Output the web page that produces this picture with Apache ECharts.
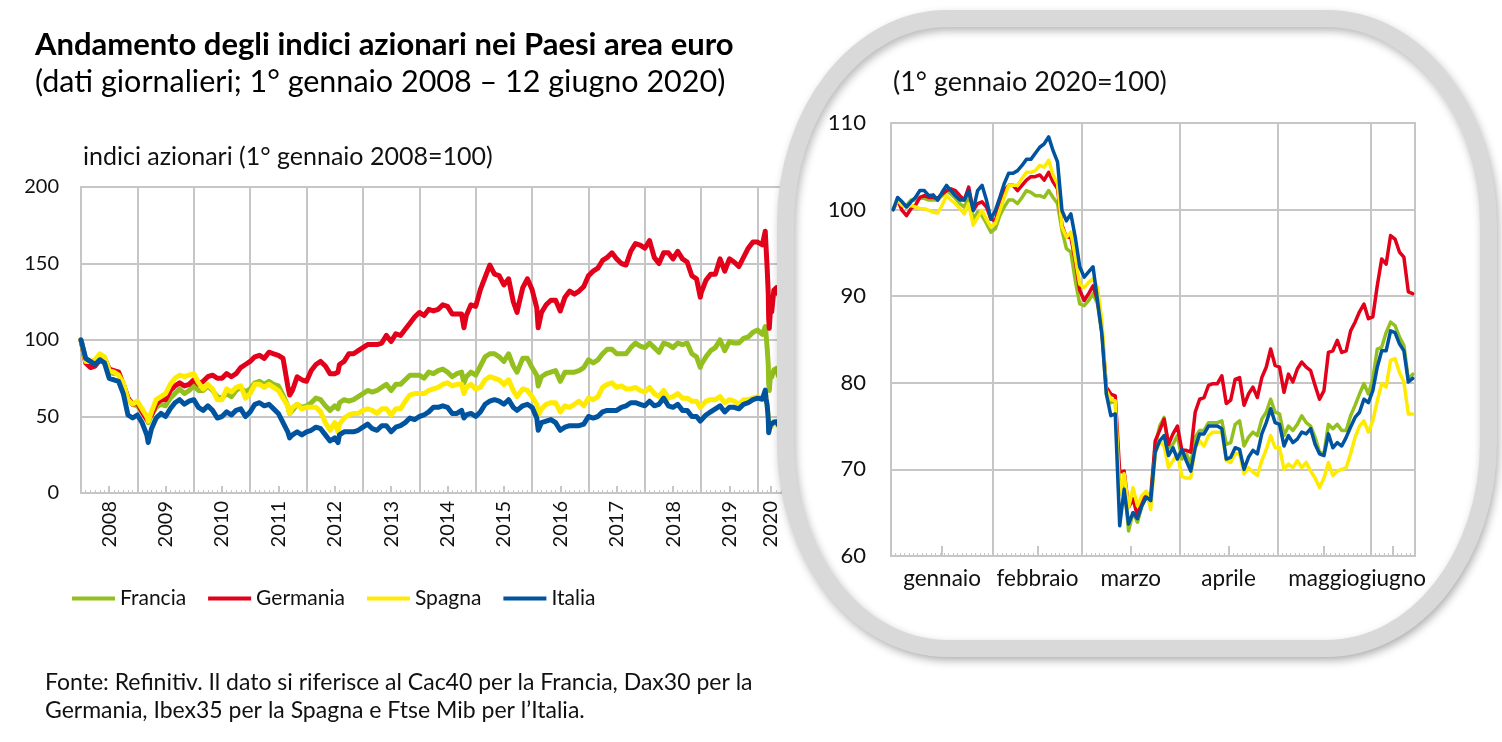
<!DOCTYPE html>
<html><head><meta charset="utf-8">
<script src="https://cdn.jsdelivr.net/npm/echarts@6/dist/echarts.min.js"></script>
<style>html,body{margin:0;padding:0;background:#fff}#c{width:1502px;height:742px}</style>
</head><body><div id="c"></div><script>
// ---------- DATA ----------
const seriesNames = ['Francia', 'Germania', 'Spagna', 'Italia'];
const seriesColors = ['#93C01F', '#E2001A', '#FFEB00', '#00539F'];

// Left chart: time in months since 1 Jan 2008 (index 1 Jan 2008 = 100)
const longT = [
  0,1,2,3,4,5,6,7,8,9,10,11,
  12,13,14,14.3,15,16,17,18,19,20,21,22,23,
  24,25,26,27,28,29,30,31,32,33,34,35,
  36,37,38,39,40,41,42,43,44,44.4,45,46,47,
  48,49,50,51,52,53,54,54.7,55,56,57,58,59,
  60,61,62,63,64,65,66,67,68,69,70,71,
  72,73,74,75,76,77,78,79,80,81,81.5,82,83,
  84,85,86,87,88,89,90,91,92,92.8,93,94,95,
  96,97,97.3,98,99,100,101,102,103,104,105,106,107,
  108,109,110,111,112,113,114,115,116,117,118,119,
  120,121,122,123,124,125,126,127,128,129,130,131,131.8,
  132,133,134,135,136,137,138,139,140,141,142,143,
  144,145,145.62,145.79,146.03,146.26,146.35,146.48,146.74,147,147.45,148,148.45,149,149.23,149.37
];
const franciaLong = [
  100,87,85,85,89,88,79,78,79,71,62,58,
  57,53,49,46,51,56,58,57,62,65,68,65,67,
  70,67,67,70,67,63,62,65,63,67,69,66,
  68,72,73,71,73,71,70,64,57,52,54,58,56,
  57,59,62,61,57,54,57,55,59,61,60,61,63,
  65,67,66,67,69,71,67,71,71,74,77,77,
  77,75,79,78,80,81,79,76,78,79,72,76,79,
  77,83,89,91,91,89,86,91,83,79,80,88,88,
  82,77,70,76,78,79,80,73,79,79,79,80,82,
  87,85,87,91,94,94,91,91,91,95,98,96,
  95,98,95,92,98,97,95,98,97,98,91,89,82,
  84,89,93,95,100,93,99,98,98,101,102,105,
  106.5,103.7,108.8,103.9,94.7,83.8,72.3,67.0,77.4,75.8,80.5,81.4,76.5,85.6,92.2,86.3
];
const germaniaLong = [
  100,85,82,83,87,88,81,80,79,71,62,58,
  59,53,48,47,51,58,61,61,67,70,72,70,71,
  74,71,73,76,77,75,75,78,76,78,82,84,
  86,89,90,88,92,91,90,88,70,64,67,76,74,
  73,80,84,86,83,78,78,79,84,86,91,91,93,
  95,97,97,97,98,103,99,104,103,107,111,115,
  118,116,120,119,120,123,122,117,117,117,108,116,123,
  122,133,141,149,143,142,136,140,125,118,121,134,140,
  133,121,108,118,123,126,126,119,128,132,130,132,135,
  142,145,147,152,154,157,153,150,149,158,163,162,
  160,165,154,150,157,157,153,158,153,151,142,140,128,
  131,139,143,143,153,145,153,151,148,154,160,164,
  164,162.2,171.1,161.0,146.8,130.4,114.3,107.6,120.2,118.4,132.5,134.2,129.7,143.7,158.4,148.1
];
const spagnaLong = [
  100,86,86,87,91,89,80,79,77,72,61,58,
  60,55,50,47,53,61,63,65,71,75,77,76,77,
  78,72,68,71,68,61,61,68,66,69,70,62,
  65,71,71,69,71,69,67,62,57,52,56,58,55,
  56,56,56,53,46,41,46,40,45,49,51,52,52,
  54,55,54,52,55,55,51,55,55,60,64,65,
  65,65,67,68,69,71,72,70,71,71,65,69,71,
  68,69,74,76,75,74,71,74,67,63,63,68,67,
  63,58,51,55,58,59,59,53,57,56,58,60,57,
  62,61,63,69,71,72,69,70,68,68,69,67,
  66,69,65,63,67,62,63,65,62,62,60,60,56,
  56,60,61,61,63,59,61,60,58,61,61,62,
  63,61.7,66.6,61.7,57.3,49.8,42.3,41.3,45.2,43.6,46.8,45.7,43.5,47.6,52.2,48.1
];
const italiaLong = [
  100,88,86,84,87,85,75,74,73,65,51,49,
  51,46,38,33,42,49,52,50,55,59,61,58,60,
  61,56,54,57,54,49,50,53,51,54,55,50,
  53,58,59,57,58,55,52,46,40,36,38,40,38,
  40,41,43,42,38,34,36,33,38,40,40,40,41,
  43,45,42,41,44,44,40,43,44,46,49,48,
  50,51,53,56,56,57,56,52,52,54,49,51,52,
  50,53,58,60,61,60,58,61,56,54,55,57,58,
  56,49,41,46,47,48,46,41,43,44,44,44,45,
  50,49,50,53,54,54,54,56,57,59,59,58,
  57,60,57,58,62,57,56,58,54,54,50,50,47,
  48,51,53,55,57,53,56,56,55,58,59,61,
  62,61.3,67.2,61.9,57.2,48.8,39.4,39.5,44.6,44.0,46.3,46.6,44.4,49.0,53.2,49.9
];
const yearLabels = ['2008','2009','2010','2011','2012','2013','2014','2015','2016','2017','2018','2019','2020'];
const yearLabelPos = [6,18,30,42,54,66,78,90,102,114,126,138,146.7];
const longMax = 149.4;

// Right chart: trading days from 1 Jan 2020 (index 1 Jan 2020 = 100)
const monthNames = ['gennaio','febbraio','marzo','aprile','maggio','giugno'];
const monthStartDays = [0,23,43,65,87,108,118];
const monthMidDays = [11.5,33,54,76,97.5,113];
const dayCount = 118;
const franciaShort = [
  100,101.1,100.7,100.5,101.1,101.1,101.3,101.3,101.1,101.1,
  101.1,101.6,102.2,101.8,101.3,100.7,100.3,101.4,98.9,99.7,
  99.3,98.4,97.4,97.8,99.3,100.3,101.1,101.1,100.7,101.4,
  102.2,102.0,101.6,101.6,101.4,102.2,101.4,100.7,97.6,95.5,
  95.1,91.8,89.1,88.9,89.5,90.3,89.1,85.6,78.7,77.7,
  77.9,67.9,68.3,62.9,65.0,63.9,65.8,66.8,67.3,72.7,
  75.0,76.0,72.5,72.9,73.9,71.2,71.8,70.6,73.7,74.5,
  74.5,75.4,75.4,75.4,75.6,72.9,73.1,75.2,75.6,72.7,
  73.7,74.3,73.9,75.8,76.6,78.1,76.6,76.4,73.9,75.0,
  74.5,75.2,76.2,75.4,75.0,73.7,72.0,71.8,75.2,74.7,
  75.2,74.5,74.5,76.2,77.4,78.7,79.9,78.7,80.4,83.9,
  84.1,85.8,87.0,86.6,85.3,84.3,80.4,81.0
];
const germaniaShort = [
  100,101.1,99.9,99.3,100.1,100.5,101.4,101.6,101.4,101.4,
  101.3,101.8,102.2,102.4,102.2,101.6,101.1,102.6,99.9,100.7,
  100.9,100.3,98.9,98.7,100.7,102.2,102.8,102.8,102.2,102.8,
  103.4,103.8,103.8,104.0,103.4,104.3,103.2,102.4,98.2,96.8,
  96.8,94.1,90.7,89.5,90.3,91.2,89.5,86.0,79.5,78.7,
  78.5,69.7,69.8,65.6,66.6,64.6,66.4,67.1,66.6,73.3,
  74.5,75.8,72.9,74.1,75.0,72.2,72.2,72.0,76.6,78.1,
  78.3,79.7,79.9,79.9,80.8,77.6,78.0,80.4,80.6,77.4,
  78.7,79.5,78.3,80.6,81.8,83.9,82.0,81.8,78.9,81.0,
  80.1,81.6,82.4,81.8,81.4,79.7,78.1,79.1,83.5,83.7,
  84.9,83.5,83.7,86.0,87.0,88.2,89.1,87.4,87.6,91.2,
  94.3,93.7,97.0,96.6,95.1,94.5,90.5,90.3
];
const spagnaShort = [
  100,101.1,100.5,100.3,100.5,100.3,100.1,100.1,99.9,99.7,
  99.6,100.5,101.6,101.1,100.7,100.1,99.5,100.7,98.2,99.1,
  99.9,98.9,98.0,98.4,99.9,101.4,102.8,102.8,102.8,103.6,
  104.3,104.3,104.5,105.1,104.9,105.7,104.0,103.0,98.0,96.8,
  97.4,94.5,91.4,91.0,91.6,92.0,91.0,87.2,79.1,78.1,
  77.9,67.1,69.5,65.6,67.9,65.8,67.0,67.5,65.4,71.8,
  73.3,72.7,70.2,71.0,71.8,69.2,69.0,69.0,72.5,73.3,
  72.7,73.9,74.3,74.3,74.3,71.0,70.8,71.8,71.8,69.5,
  70.2,69.7,69.3,71.0,72.3,73.9,72.5,72.5,70.0,70.6,
  70.2,71.0,70.2,70.8,69.8,69.0,67.9,69.0,70.8,69.3,
  69.8,70.0,70.2,71.8,73.7,75.0,75.6,74.3,75.6,77.9,
  79.9,79.5,82.6,82.8,81.2,80.1,76.4,76.4
];
const italiaShort = [
  100,101.4,100.9,100.3,100.9,101.4,102.2,102.2,101.6,101.7,
  101.1,102.0,102.8,102.2,101.6,101.1,101.1,102.2,99.9,102.2,
  102.8,101.1,98.9,99.9,101.4,103.0,104.2,104.2,104.5,105.1,
  105.8,105.8,106.5,107.2,107.6,108.4,106.8,105.5,99.9,98.7,
  99.5,96.8,93.4,92.2,92.8,93.4,89.5,85.6,78.7,76.2,
  76.4,63.5,67.7,63.7,65.0,64.3,65.8,66.8,66.4,72.0,
  73.3,73.9,71.6,72.5,71.2,72.3,71.0,69.8,72.5,74.1,
  74.1,75.0,75.0,75.0,74.7,71.2,71.4,72.5,72.3,70.0,
  71.4,72.2,71.8,74.1,75.4,77.0,75.4,75.2,72.7,73.9,
  73.1,73.5,74.3,74.1,74.7,72.9,71.8,71.6,74.1,72.5,
  73.1,72.7,73.7,74.9,76.0,76.6,78.1,77.7,79.1,81.8,
  83.7,83.7,86.0,85.8,84.5,83.7,80.1,80.5
];

// ---------- CHART ----------
const FONT = 'Lato';
const GRID_C = '#c6c6c6';
const TXT = '#111';
function nearestIdx(arr, v) { let b = 0; for (let i = 1; i < arr.length; i++) if (Math.abs(arr[i] - v) < Math.abs(arr[b] - v)) b = i; return b; }

// decorative rounded frame with elliptical corners
echarts.graphic.registerShape('ovalFrame', echarts.graphic.extendShape({
  shape: { x: 0, y: 0, width: 0, height: 0, rx: 0, ry: 0 },
  buildPath(ctx, s) {
    const k = 0.5523;
    const x0 = s.x, y0 = s.y, x1 = s.x + s.width, y1 = s.y + s.height, rx = s.rx, ry = s.ry;
    ctx.moveTo(x0 + rx, y0);
    ctx.lineTo(x1 - rx, y0);
    ctx.bezierCurveTo(x1 - rx + k * rx, y0, x1, y0 + ry - k * ry, x1, y0 + ry);
    ctx.lineTo(x1, y1 - ry);
    ctx.bezierCurveTo(x1, y1 - ry + k * ry, x1 - rx + k * rx, y1, x1 - rx, y1);
    ctx.lineTo(x0 + rx, y1);
    ctx.bezierCurveTo(x0 + rx - k * rx, y1, x0, y1 - ry + k * ry, x0, y1 - ry);
    ctx.lineTo(x0, y0 + ry);
    ctx.bezierCurveTo(x0, y0 + ry - k * ry, x0 + rx - k * rx, y0, x0 + rx, y0);
    ctx.closePath();
  }
}));

const longSeries = [franciaLong, germaniaLong, spagnaLong, italiaLong];
const shortSeries = [franciaShort, germaniaShort, spagnaShort, italiaShort];

const series = [];
seriesNames.forEach((name, k) => {
  series.push({
    name, type: 'line', xAxisIndex: 0, yAxisIndex: 0,
    data: longT.map((t, i) => [t, longSeries[k][i]]),
    showSymbol: false, symbol: 'none', color: seriesColors[k], silent: true,
    lineStyle: { width: 5, color: seriesColors[k], cap: 'round', join: 'round' },
    emphasis: { disabled: true }, z: 2
  });
});
seriesNames.forEach((name, k) => {
  series.push({
    name, type: 'line', xAxisIndex: 3, yAxisIndex: 1,
    data: shortSeries[k].map((v, i) => [i + 0.5, v]),
    showSymbol: false, symbol: 'none', color: seriesColors[k], silent: true,
    lineStyle: { width: 3.5, color: seriesColors[k], cap: 'round', join: 'round' },
    emphasis: { disabled: true }, z: 22
  });
});

const hidden = { show: false };

const option = {
  animation: false,
  backgroundColor: '#fff',
  textStyle: { fontFamily: FONT },
  title: [
    { text: 'Andamento degli indici azionari nei Paesi area euro', left: 35, top: 26, padding: 0,
      textStyle: { fontFamily: FONT, fontWeight: 'bold', fontSize: 31, lineHeight: 37, color: '#000' } },
    { text: '(dati giornalieri; 1° gennaio 2008 – 12 giugno 2020)', left: 35, top: 64, padding: 0,
      textStyle: { fontFamily: FONT, fontWeight: 'normal', fontSize: 30.5, lineHeight: 36, color: '#000' } },
    { text: 'indici azionari (1° gennaio 2008=100)', left: 83, top: 142, padding: 0,
      textStyle: { fontFamily: FONT, fontWeight: 'normal', fontSize: 25, lineHeight: 30, color: TXT } },
    { text: '(1° gennaio 2020=100)', left: 893, top: 66, padding: 0, z: 30,
      textStyle: { fontFamily: FONT, fontWeight: 'normal', fontSize: 27, lineHeight: 32, color: TXT } },
    { text: 'Fonte: Refinitiv. Il dato si riferisce al Cac40 per la Francia, Dax30 per la\nGermania, Ibex35 per la Spagna e Ftse Mib per l\u2019Italia.', left: 45, top: 669, padding: 0,
      textStyle: { fontFamily: FONT, fontWeight: 'normal', fontSize: 23, lineHeight: 28, color: TXT } }
  ],
  legend: {
    data: seriesNames, left: 72, top: 588, padding: 0, icon: 'rect', itemWidth: 43, itemHeight: 4, itemGap: 22,
    textStyle: { fontFamily: FONT, fontSize: 21, color: TXT }, selectedMode: false
  },
  grid: [
    { left: 81, top: 187, width: 702, height: 306, show: true, borderColor: GRID_C, borderWidth: 2, backgroundColor: 'transparent', outerBoundsMode: 'none', z: 0 },
    { left: 891, top: 123, width: 524, height: 433, show: true, borderColor: GRID_C, borderWidth: 2, backgroundColor: 'transparent', outerBoundsMode: 'none', z: 20 }
  ],
  xAxis: [
    // 0: left, year gridlines
    { gridIndex: 0, type: 'value', position: 'bottom', min: 0, max: longMax, interval: 12,
      axisLine: { show: true, onZero: false, lineStyle: { color: GRID_C, width: 2 } },
      axisTick: hidden, axisLabel: hidden,
      splitLine: { show: true, lineStyle: { color: GRID_C, width: 2 } } },
    // 1: left, monthly minor ticks
    { gridIndex: 0, type: 'value', position: 'bottom', min: 0, max: longMax, interval: 1,
      axisLine: { show: false, onZero: false }, axisLabel: hidden, splitLine: hidden,
      axisTick: { show: true, inside: true, length: 3, lineStyle: { color: GRID_C, width: 1 } } },
    // 2: left, year labels and major ticks
    { gridIndex: 0, type: 'value', position: 'bottom', min: 0, max: longMax,
      axisLine: { show: false, onZero: false }, splitLine: hidden,
      axisTick: { show: true, inside: true, length: 7, customValues: yearLabelPos, lineStyle: { color: GRID_C, width: 2 } },
      axisLabel: { show: true, customValues: yearLabelPos, rotate: 90, margin: 8, hideOverlap: false, fontFamily: FONT, fontSize: 20, color: TXT,
        formatter: v => yearLabels[nearestIdx(yearLabelPos, v)] } },
    // 3: right, month gridlines
    { gridIndex: 1, type: 'value', position: 'bottom', min: 0, max: dayCount, z: 21,
      axisLine: { show: true, onZero: false, lineStyle: { color: GRID_C, width: 2 } },
      axisTick: { show: false, customValues: monthStartDays }, axisLabel: hidden,
      splitLine: { show: true, lineStyle: { color: GRID_C, width: 2 } } },
    // 4: right, daily minor ticks
    { gridIndex: 1, type: 'value', position: 'bottom', min: 0, max: dayCount, interval: 1, z: 21,
      axisLine: { show: false, onZero: false }, axisLabel: hidden, splitLine: hidden,
      axisTick: { show: true, inside: true, length: 3, lineStyle: { color: GRID_C, width: 1 } } },
    // 5: right, month labels
    { gridIndex: 1, type: 'value', position: 'bottom', min: 0, max: dayCount, z: 21,
      axisLine: { show: false, onZero: false }, splitLine: hidden,
      axisTick: { show: true, inside: true, length: 10, customValues: monthMidDays, lineStyle: { color: GRID_C, width: 2 } },
      axisLabel: { show: true, customValues: monthMidDays, margin: 11, hideOverlap: false, fontFamily: FONT, fontSize: 22.5, color: TXT,
        formatter: v => monthNames[nearestIdx(monthMidDays, v)] } }
  ],
  yAxis: [
    { gridIndex: 0, type: 'value', min: 0, max: 200, interval: 50,
      axisLine: hidden, axisTick: hidden,
      axisLabel: { margin: 22, fontFamily: FONT, fontSize: 20, color: TXT },
      splitLine: { show: true, lineStyle: { color: GRID_C, width: 2 } } },
    { gridIndex: 1, type: 'value', min: 60, max: 110, interval: 10, z: 21,
      axisLine: hidden, axisTick: hidden,
      axisLabel: { margin: 25, fontFamily: FONT, fontSize: 22, color: TXT },
      splitLine: { show: true, lineStyle: { color: GRID_C, width: 2 } } }
  ],
  graphic: [
    { type: 'ovalFrame', z: 10, silent: true,
      shape: { x: 785.5, y: 18.5, width: 703, height: 630, rx: 162, ry: 206 },
      style: { fill: '#ffffff', stroke: '#d9d9d9', lineWidth: 17,
        shadowBlur: 8, shadowColor: 'rgba(0,0,0,0.28)', shadowOffsetX: 2, shadowOffsetY: 4 } }
  ],
  series
};

const chart = echarts.init(document.getElementById('c'), null, { renderer: 'canvas', width: 1502, height: 742 });
chart.setOption(option);
</script></body></html>
